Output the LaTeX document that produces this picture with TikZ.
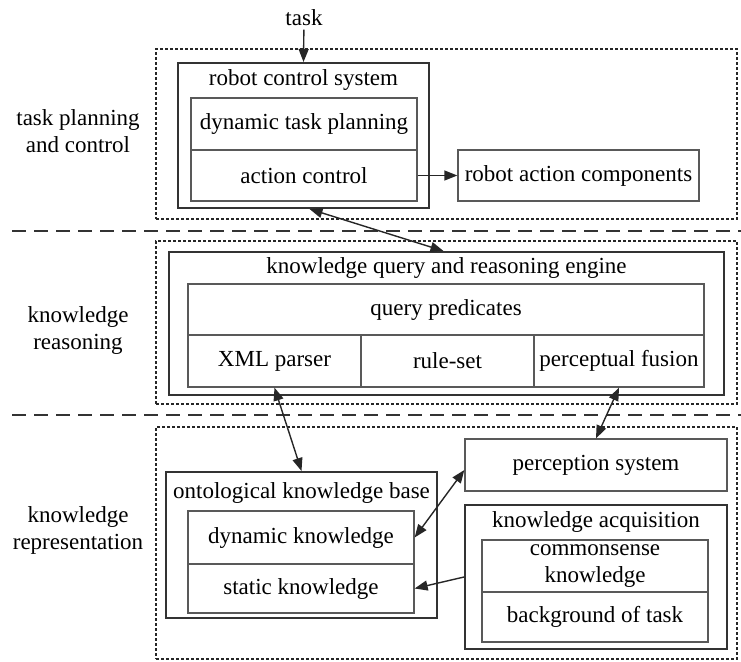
\documentclass[tikz,border=0pt]{standalone}
\usepackage{fontspec}
\setmainfont{Liberation Serif}
\usetikzlibrary{arrows.meta}

% place a rectangular node by its corners: name, style, x1, y1, x2, y2, text
\newcommand\rectnode[7]{%
  \pgfmathsetmacro\rcx{(#3+#5)/2}\pgfmathsetmacro\rcy{(#4+#6)/2}%
  \pgfmathsetmacro\rw{#5-#3}\pgfmathsetmacro\rh{#6-#4}%
  \node[#2, minimum width=\rw pt, minimum height=\rh pt] (#1) at (\rcx,\rcy) {#7};}

\begin{document}
\begin{tikzpicture}[x=1pt,y=-1pt,
  every node/.style={font=\fontsize{23}{27}\selectfont, text=black},
  frame/.style={draw=black!85, line width=1.4pt, dash pattern=on 3pt off 2pt, rectangle, inner sep=0pt},
  separator/.style={draw=black!80, line width=2.3pt, dash pattern=on 14pt off 8pt},
  outerbox/.style={draw=black!80, line width=2pt, rectangle, inner sep=0pt},
  cell/.style={draw=black!65, line width=1.3pt, rectangle, inner sep=0pt, align=center},
  layer/.style={align=center},
  tip/.style={Triangle[length=13pt,width=10pt]},
  link/.style={draw=black!85, line width=1.4pt, -{Triangle[length=13pt,width=10pt]}},
  biline/.style={draw=black!85, line width=1.4pt,
    {Triangle[length=13pt,width=10pt]}-{Triangle[length=13pt,width=10pt]}},
]
\useasboundingbox (0,0) rectangle (741,661);

% layer labels
\node[layer] (lblTask) at (78,131.5) {task planning\\and control};
\node[layer] (lblReason) at (78,330) {knowledge\\reasoning};
\node[layer] (lblRepr) at (78,530) {knowledge\\representation};

% layer separators
\coordinate (sepA0) at (12,231);  \coordinate (sepA1) at (741,231);
\coordinate (sepB0) at (12,415);  \coordinate (sepB1) at (741,415);
\draw[separator] (sepA0) -- (sepA1);
\draw[separator] (sepB0) -- (sepB1);

% layer frames
\rectnode{frameTask}{frame}{156}{49}{737}{219}{}
\rectnode{frameReason}{frame}{156}{241}{737}{404}{}
\rectnode{frameRepr}{frame}{156}{427}{737}{659}{}

% task planning and control
\node (task) at (304,18) {task};
\rectnode{rcs}{outerbox}{178}{63}{429}{208}{}
\node (rcsT) at (303.5,80) {robot control system};
\rectnode{dtp}{cell}{191}{98}{417}{150}{dynamic task planning}
\rectnode{ac}{cell}{191}{150}{417}{201}{action control}
\rectnode{rac}{cell}{458}{150}{699}{201}{robot action components}

% knowledge reasoning
\rectnode{kqre}{outerbox}{169}{252}{724}{395}{}
\node (kqreT) at (446.5,268) {knowledge query and reasoning engine};
\rectnode{qp}{cell}{188}{284}{704}{335}{query predicates}
\rectnode{xml}{cell}{188}{335}{361}{387}{XML parser}
\rectnode{rules}{cell}{361}{335}{534}{387}{rule-set}
\rectnode{pf}{cell}{534}{335}{704}{387}{perceptual fusion}

% knowledge representation
\rectnode{ps}{cell}{465}{439}{727}{491}{perception system}
\rectnode{okb}{outerbox}{166}{472}{437}{618}{}
\node (okbT) at (301.5,493) {ontological knowledge base};
\rectnode{dk}{cell}{188}{511}{414}{564}{dynamic knowledge}
\rectnode{sk}{cell}{188}{564}{414}{613}{static knowledge}
\rectnode{ka}{outerbox}{465}{505}{727}{649}{}
\node (kaT) at (596,522) {knowledge acquisition};
\rectnode{ck}{cell}{482}{540}{708}{592}{commonsense\\knowledge}
\rectnode{bt}{cell}{482}{592}{708}{642}{background of task}

% connectors
\draw[link] (task) -- (rcs.north);
\draw[link] (ac.east) -- (rac.west);
\draw[biline] ([xshift=6pt]rcs.south) -- ([xshift=-3pt]kqre.north);
\draw[biline] (xml.south) -- (okb.north);
\draw[biline] (pf.south) -- (ps.north);
\draw[biline] ([yshift=-5pt]ps.west) -- (dk.east);
\draw[link] (ka.west) -- (sk.east);
\end{tikzpicture}
\end{document}
